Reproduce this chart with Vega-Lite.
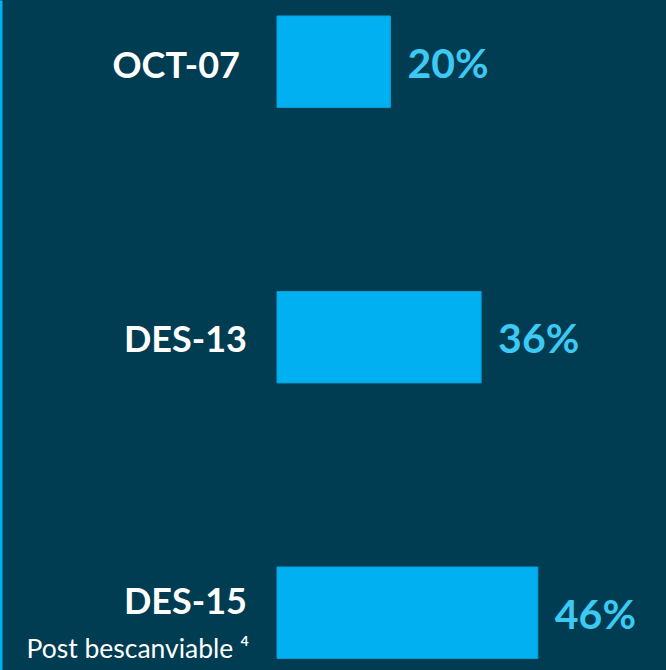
{
  "$schema": "https://vega.github.io/schema/vega-lite/v6.json",
  "width": 666,
  "height": 670,
  "autosize": "none",
  "padding": 0,
  "background": "#003c52",
  "config": {"view": {"stroke": null}},
  "data": {"values": [
    {"period": "OCT-07", "value": 20, "label": "20%", "note": ""},
    {"period": "DES-13", "value": 36, "label": "36%", "note": ""},
    {"period": "DES-15", "value": 46, "label": "46%", "note": "Post bescanviable ⁴"}
  ]},
  "encoding": {
    "y": {
      "field": "period", "type": "nominal", "sort": null,
      "scale": {"paddingInner": 0.668, "paddingOuter": 0.05, "align": 0.58},
      "axis": {"title": null, "labels": false, "ticks": false, "grid": false, "domain": true, "domainColor": "#00b0f0", "domainWidth": 4}
    }
  },
  "layer": [
    {
      "mark": {"type": "bar", "color": "#00b0f0", "stroke": "#0a9fd6", "strokeWidth": 1},
      "encoding": {
        "x": {"field": "value", "type": "quantitative", "scale": {"domain": [0, 100], "range": [277, 844]}, "axis": null},
        "x2": {"datum": 0}
      }
    },
    {
      "mark": {"type": "text", "align": "left", "baseline": "middle", "dx": 17, "dy": 4, "font": "Lato", "fontWeight": "bold", "fontSize": 41, "color": "#3ccaf4"},
      "encoding": {
        "x": {"field": "value", "type": "quantitative"},
        "text": {"field": "label"}
      }
    },
    {
      "transform": [{"filter": "datum.period == 'OCT-07'"}],
      "mark": {"type": "text", "align": "right", "baseline": "middle", "dx": -37, "dy": 5, "font": "Lato", "fontWeight": "bold", "fontSize": 36, "color": "#ffffff"},
      "encoding": {
        "x": {"datum": 0},
        "text": {"field": "period"}
      }
    },
    {
      "transform": [{"filter": "datum.period == 'DES-13'"}],
      "mark": {"type": "text", "align": "right", "baseline": "middle", "dx": -30, "dy": 4, "font": "Lato", "fontWeight": "bold", "fontSize": 36, "color": "#ffffff"},
      "encoding": {
        "x": {"datum": 0},
        "text": {"field": "period"}
      }
    },
    {
      "transform": [{"filter": "datum.note != ''"}],
      "mark": {"type": "text", "align": "right", "baseline": "middle", "dx": -30, "dy": -10, "font": "Lato", "fontWeight": "bold", "fontSize": 36, "color": "#ffffff"},
      "encoding": {
        "x": {"datum": 0},
        "text": {"field": "period"}
      }
    },
    {
      "transform": [{"filter": "datum.note != ''"}],
      "mark": {"type": "text", "align": "right", "baseline": "middle", "dx": -28, "dy": 37, "font": "Lato", "fontSize": 26.5, "color": "#ffffff"},
      "encoding": {
        "x": {"datum": 0},
        "text": {"field": "note"}
      }
    }
  ]
}
